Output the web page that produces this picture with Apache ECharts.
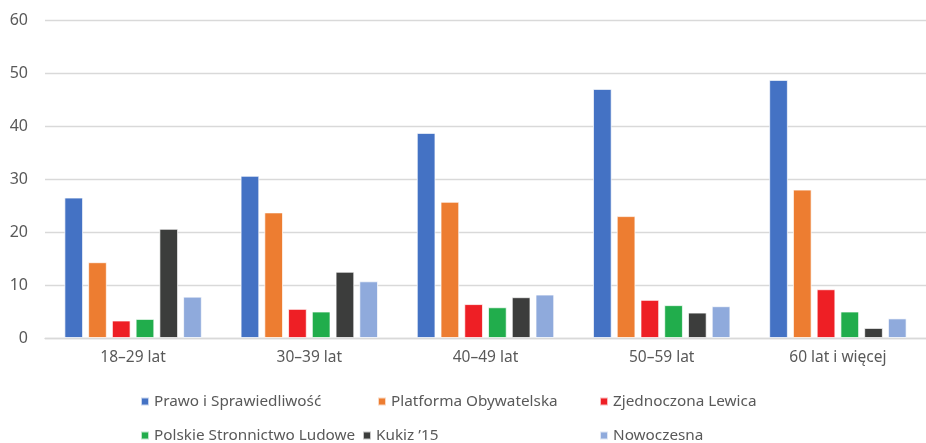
<!DOCTYPE html>
<html>
<head>
<meta charset="utf-8">
<script src="https://cdn.jsdelivr.net/npm/echarts@6/dist/echarts.min.js"></script>
<style>
  html, body { margin: 0; padding: 0; background: #fff; }
  #chart { width: 926px; height: 443px; }
</style>
</head>
<body>
<div id="chart"></div>
<script>
// grupy wiekowe
var categories = ['18–29 lat', '30–39 lat', '40–49 lat', '50–59 lat', '60 lat i więcej'];
var yTicks = [0, 10, 20, 30, 40, 50, 60];

var partie = ['Prawo i Sprawiedliwość', 'Platforma Obywatelska', 'Zjednoczona Lewica',
              'Polskie Stronnictwo Ludowe', 'Kukiz \u201915', 'Nowoczesna'];
var kolory = ['#4472C4', '#ED7D31', '#EE1F25', '#21AD4C', '#3C3D3C', '#8FAADC'];

var pis    = [26.5, 30.6, 38.7, 47.0, 48.7];
var po     = [14.3, 23.7, 25.7, 23.0, 28.0];
var zl     = [3.3, 5.5, 6.4, 7.2, 9.2];
var psl    = [3.6, 5.0, 5.8, 6.2, 5.0];
var kukiz  = [20.6, 12.5, 7.7, 4.8, 1.9];
var nowocz = [7.8, 10.7, 8.2, 6.0, 3.7];
var wartosci = [pis, po, zl, psl, kukiz, nowocz];

// legenda w dwóch wierszach, jak w Excelu
var legendPos = [
  { left: 140, top: 394 }, { left: 377, top: 394 }, { left: 599, top: 394 },
  { left: 140, top: 428 }, { left: 362, top: 428 }, { left: 599, top: 428 }
];

var chart = echarts.init(document.getElementById('chart'), null, { renderer: 'canvas' });

var font = 'Noto Sans';

var series = partie.map(function (nazwa, i) {
  return {
    name: nazwa,
    type: 'bar',
    data: wartosci[i],
    barWidth: 18.7,
    barGap: '27%',
    itemStyle: { color: kolory[i], borderColor: 'rgba(255,255,255,0.7)', borderWidth: 1 }
  };
});

var legends = partie.map(function (nazwa, i) {
  return {
    data: [nazwa],
    left: legendPos[i].left,
    top: legendPos[i].top,
    icon: 'rect',
    itemWidth: 8,
    itemHeight: 8,
    itemGap: 0,
    itemTextGap: 3,
    padding: 0,
    selectedMode: false,
    textStyle: { color: '#595959', fontSize: 15.3, fontFamily: font }
  };
});

var option = {
  animation: false,
  color: kolory,
  textStyle: { fontFamily: font },
  grid: { left: 45, top: 20, width: 890, bottom: 105, containLabel: false },
  legend: legends,
  xAxis: {
    type: 'category',
    data: categories,
    axisLine: { show: true, lineStyle: { color: '#D9D9D9', width: 1.3 } },
    axisTick: { show: false },
    axisLabel: { color: '#595959', fontSize: 15.5, fontFamily: font, margin: 12 }
  },
  yAxis: {
    type: 'value',
    min: yTicks[0],
    max: yTicks[yTicks.length - 1],
    interval: yTicks[1] - yTicks[0],
    axisLine: { show: false },
    axisTick: { show: false },
    axisLabel: { color: '#595959', fontSize: 16, fontFamily: font, margin: 17 },
    splitLine: { lineStyle: { color: '#D9D9D9', width: 1.3 } }
  },
  series: series
};

chart.setOption(option);
</script>
</body>
</html>
